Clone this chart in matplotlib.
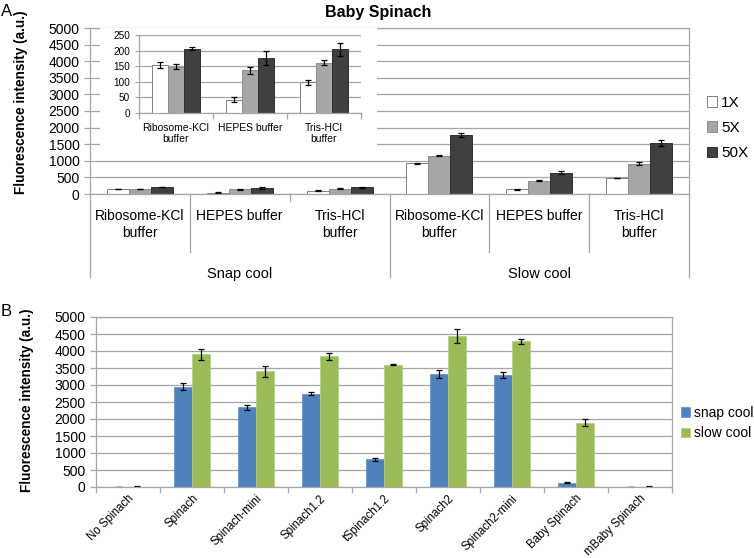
import matplotlib
matplotlib.use("Agg")
import matplotlib.pyplot as plt
import matplotlib.patches as mpatches
import numpy as np

plt.rcParams['font.family'] = ['Liberation Sans', 'DejaVu Sans']

# panel A data
buffers = ["Ribosome-KCl\nbuffer", "HEPES buffer", "Tris-HCl\nbuffer"]
cool_groups = ["Snap cool", "Slow cool"]
conc_labels = ["1X", "5X", "50X"]
a_1x = [155, 43, 98, 930, 140, 480]
a_1x_err = [10, 8, 9, 15, 8, 10]
a_5x = [148, 137, 161, 1150, 400, 910]
a_5x_err = [8, 12, 8, 15, 20, 40]
a_50x = [206, 177, 204, 1770, 640, 1530]
a_50x_err = [5, 22, 20, 60, 40, 90]

# panel B data
constructs = ["No Spinach", "Spinach", "Spinach-mini", "Spinach1.2", "tSpinach1.2",
              "Spinach2", "Spinach2-mini", "Baby Spinach", "mBaby Spinach"]
snap = [8, 2950, 2340, 2750, 810, 3330, 3300, 130, 3]
snap_err = [3, 110, 70, 40, 50, 110, 80, 10, 1]
slow = [12, 3900, 3400, 3850, 3600, 4440, 4280, 1890, 12]
slow_err = [5, 160, 170, 100, 20, 200, 80, 100, 3]
b_labels = ["snap cool", "slow cool"]

grid_c = "#A6A6A6"
conc_colors = ["white", "#A6A6A6", "#404040"]
conc_edges = ["#7F7F7F", "#8C8C8C", "#303030"]
err_kw = dict(ecolor="black", capsize=2.5, elinewidth=0.9, capthick=0.9)

W, H = 754, 558
fig = plt.figure(figsize=(W / 100, H / 100), dpi=100)


def style_axes(ax):
    ax.set_axisbelow(True)
    ax.yaxis.grid(True, color=grid_c, linewidth=0.9)
    for s in ax.spines.values():
        s.set_color(grid_c)
        s.set_linewidth(0.9)
    ax.tick_params(axis="y", colors=grid_c, length=4, width=0.9, labelcolor="black")


# ---------- panel A ----------
axA = fig.add_axes((90 / W, 1 - 194 / H, 599 / W, 166 / H), zorder=0)
style_axes(axA)
xa = np.arange(len(a_1x))
series_a = [(a_1x, a_1x_err), (a_5x, a_5x_err), (a_50x, a_50x_err)]
wa = 0.22
for i, (vals, errs) in enumerate(series_a):
    axA.bar(xa + (i - 1) * wa, vals, wa, yerr=errs, color=conc_colors[i],
            edgecolor=conc_edges[i], linewidth=0.7, error_kw=err_kw, label=conc_labels[i])
axA.set_ylim(0, 5000)
axA.set_yticks(np.arange(0, 5001, 500))
axA.set_xlim(-0.5, len(xa) - 0.5)
axA.set_xticks(xa)
axA.set_xticklabels(buffers * 2, fontsize=10, linespacing=1.25)
axA.tick_params(axis="x", length=0, pad=11)
axA.tick_params(axis="y", labelsize=10)

trA = axA.get_xaxis_transform()
for b in [0.5, 3.5, 4.5]:
    axA.plot([b, b], [0, -0.347], transform=trA, clip_on=False, color=grid_c, lw=0.9)
axA.plot([1.5, 1.5], [0, -0.04], transform=trA, clip_on=False, color=grid_c, lw=0.9)
for b in [-0.5, 2.5, 5.5]:
    axA.plot([b, b], [0, -0.5], transform=trA, clip_on=False, color=grid_c, lw=0.9)
for g, name in enumerate(cool_groups):
    axA.text(g * 3 + 1, -0.48, name, transform=trA, ha="center", va="center", fontsize=10.5)

fig.legend(*axA.get_legend_handles_labels(), loc="center left",
           bbox_to_anchor=(693 / W, 1 - 128 / H), frameon=False, fontsize=11,
           handlelength=0.7, handleheight=0.7, handletextpad=0.25, labelspacing=0.75)

# inset box covering the main grid
fig.add_artist(mpatches.Rectangle((100 / W, 1 - 152 / H), 277 / W, 124 / H,
                                  transform=fig.transFigure, facecolor="white",
                                  edgecolor="none", zorder=0.5))

axI = fig.add_axes((139 / W, 1 - 113 / H, 222 / W, 78 / H), zorder=1)
style_axes(axI)
axI.spines["top"].set_visible(False)
axI.spines["right"].set_visible(False)
xi = np.arange(3)
for i, (vals, errs) in enumerate(series_a):
    axI.bar(xi + (i - 1) * wa, vals[:3], wa, yerr=errs[:3], color=conc_colors[i],
            edgecolor=conc_edges[i], linewidth=0.7, error_kw=err_kw)
axI.set_ylim(0, 250)
axI.set_yticks(np.arange(0, 251, 50))
axI.set_xlim(-0.5, 2.5)
axI.set_xticks(xi)
axI.set_xticklabels(buffers, fontsize=7.5, linespacing=1.2)
axI.set_xticks([-0.5, 0.5, 1.5, 2.5], minor=True)
axI.tick_params(axis="x", which="major", length=0, pad=7)
axI.tick_params(axis="x", which="minor", length=4, color=grid_c, width=0.9)
axI.tick_params(axis="y", labelsize=7.2, length=3)

# ---------- panel B ----------
axB = fig.add_axes((96 / W, 1 - 487 / H, 576 / W, 170 / H))
style_axes(axB)
xb = np.arange(len(constructs))
wb = 0.28
axB.bar(xb - wb / 2, snap, wb, yerr=snap_err, color="#4F81BD", edgecolor="#6A94C8",
        linewidth=0.6, error_kw=err_kw, label=b_labels[0])
axB.bar(xb + wb / 2, slow, wb, yerr=slow_err, color="#9BBB59", edgecolor="#B5CF85",
        linewidth=0.6, error_kw=err_kw, label=b_labels[1])
axB.set_ylim(0, 5000)
axB.set_yticks(np.arange(0, 5001, 500))
axB.set_xlim(-0.5, len(xb) - 0.5)
axB.set_xticks(xb)
axB.set_xticklabels(constructs, rotation=45, ha="right", rotation_mode="anchor", fontsize=8.3)
axB.set_xticks(np.arange(-0.5, len(xb), 1), minor=True)
axB.tick_params(axis="x", which="major", length=0, pad=4)
axB.tick_params(axis="x", which="minor", length=4, color=grid_c, width=0.9)
axB.tick_params(axis="y", labelsize=10)

fig.legend(*axB.get_legend_handles_labels(), loc="center left",
           bbox_to_anchor=(668 / W, 1 - 423 / H), frameon=False, fontsize=10,
           handlelength=0.7, handleheight=0.7, handletextpad=0.3, labelspacing=0.5)

# ---------- labels ----------
fig.text(1 / W, 1 - 12 / H, "A", fontsize=12, ha="left", va="center")
fig.text(1 / W, 1 - 312 / H, "B", fontsize=12, ha="left", va="center")
fig.text(378 / W, 1 - 12 / H, "Baby Spinach", fontsize=11.5, fontweight="bold",
         ha="center", va="center")
fig.text(21 / W, 1 - 102 / H, "Fluorescence intensity (a.u.)", fontsize=9.8,
         fontweight="bold", rotation=90, ha="center", va="center")
fig.text(27 / W, 1 - 400 / H, "Fluorescence intensity (a.u.)", fontsize=9.8,
         fontweight="bold", rotation=90, ha="center", va="center")

fig.savefig("out.png", dpi=100)
